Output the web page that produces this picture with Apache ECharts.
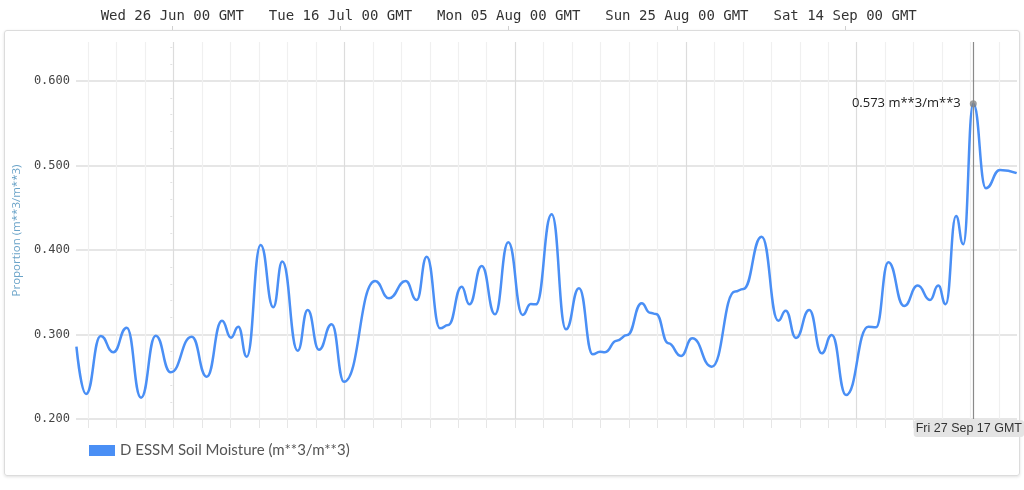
<!DOCTYPE html>
<html>
<head>
<meta charset="utf-8">
<script src="https://cdn.jsdelivr.net/npm/echarts@6/dist/echarts.min.js"></script>
<style>
  html, body { margin: 0; padding: 0; background: #ffffff; }
  #wrap { position: relative; width: 1024px; height: 490px; overflow: hidden; }
  #box { position: absolute; left: 4px; top: 30px; width: 1014px; height: 444px;
         border: 1px solid #dcdcdc; border-radius: 3px; box-shadow: 0 1px 3px rgba(0,0,0,0.12); }
  #chart { position: absolute; left: 0; top: 0; width: 1024px; height: 490px; }
</style>
</head>
<body>
<div id="wrap">
  <div id="box"></div>
  <div id="chart"></div>
</div>
<script>
// ---- data (x = days since Wed 26 Jun 00 GMT) ----
const days = [-11.4, -10.26, -8.51, -7.02, -5.42, -3.72, -1.97, -0.19, 2.31, 4.09,
  5.91, 6.98, 7.85, 8.85, 10.51, 12.01, 13.08, 14.91, 16.10, 17.44,
  18.95, 20.42, 24.11, 25.77, 27.75, 29.06, 30.25, 31.83, 32.82, 34.41,
  35.32, 36.79, 38.37, 39.95, 41.66, 42.62, 43.25, 45.11, 46.81, 48.36,
  49.99, 50.86, 51.45, 52.84, 54.10, 55.81, 56.80, 57.51, 58.98, 60.49,
  61.83, 64.14, 66.91, 67.90, 70.08, 72.06, 72.94, 74.16, 75.74, 77.22,
  78.41, 80.11, 82.76, 83.68, 85.14, 87.01, 88.64, 90.09, 91.08,
  91.96, 93.19, 94.05, 95.24, 96.75, 98.42, 100.40];
const moisture = [0.2856, 0.2296, 0.2982, 0.279, 0.308, 0.2252, 0.2986, 0.2553, 0.2974, 0.250,
  0.3163, 0.2962, 0.3092, 0.2737, 0.4059, 0.3322, 0.3862, 0.2808, 0.329, 0.282,
  0.312, 0.2441, 0.3633, 0.3428, 0.3633, 0.3408, 0.392, 0.3073, 0.3112, 0.3566,
  0.3357, 0.381, 0.324, 0.409, 0.3231, 0.336, 0.3357, 0.4422, 0.3062, 0.3547,
  0.2766, 0.2797, 0.279, 0.2927, 0.2994, 0.3369, 0.3258, 0.3243, 0.2896, 0.2746,
  0.2955, 0.2619, 0.3507, 0.3538, 0.4157, 0.3163, 0.3282, 0.2958, 0.329, 0.2777,
  0.2994, 0.2284, 0.3092, 0.3085, 0.3855, 0.3337, 0.3578, 0.3408, 0.3578,
  0.3357, 0.4402, 0.4067, 0.573, 0.473, 0.4947, 0.4908];

const seriesName = 'D ESSM Soil Moisture (m**3/m**3)';
const yAxisName = 'Proportion (m**3/m**3)';
const unitSuffix = ' m**3/m**3';

const topTickDays = [0, 20, 40, 60, 80];
const topTickLabels = ['Wed 26 Jun 00 GMT', 'Tue 16 Jul 00 GMT', 'Mon 05 Aug 00 GMT', 'Sun 25 Aug 00 GMT', 'Sat 14 Sep 00 GMT'];
const cursorLabel = 'Fri 27 Sep 17 GMT';

const xMin = -11.45, xMax = 100.44;
const yMin = 0.2, yMax = 0.646, yStep = 0.1;

// vertical grid lines of the lower axis
const gridStart = -9.99, gridStep = 3.384, gridCount = 33;
const gridTicks = [];
for (let k = 0; k < gridCount; k++) gridTicks.push(+(gridStart + k * gridStep).toFixed(3));

const peakIdx = moisture.indexOf(Math.max.apply(null, moisture));
const peakDay = days[peakIdx];

const chart = echarts.init(document.getElementById('chart'), null, { renderer: 'canvas' });
chart.setOption({
  animation: false,
  grid: { left: 76, right: 7, top: 42, bottom: 71 },
  legend: {
    left: 84, top: 438, icon: 'rect', itemWidth: 26, itemHeight: 11,
    textStyle: { fontFamily: 'Lato', fontSize: 15, color: '#555' },
    data: [seriesName]
  },
  xAxis: [{
    type: 'value', position: 'bottom', min: xMin, max: xMax,
    axisLine: { show: false },
    axisTick: { show: true, length: 9, customValues: gridTicks, lineStyle: { color: '#e6e6e6' } },
    axisLabel: { show: false, customValues: gridTicks },
    splitLine: { show: true, lineStyle: { color: ['#f0f0f0', '#f0f0f0', '#f0f0f0', '#dcdcdc', '#f0f0f0', '#f0f0f0'], width: 1.2 } },
    axisPointer: {
      show: true, type: 'line', value: peakDay, status: 'show', snap: false, triggerTooltip: false,
      lineStyle: { color: '#8a8a8a', width: 1.2, type: 'solid' },
      label: { show: true, formatter: function () { return cursorLabel; }, backgroundColor: '#e4e4e4',
        color: '#333', fontFamily: 'Liberation Sans', fontSize: 12.5, padding: [2, 2, 2, 2], margin: 1 }
    }
  }, {
    type: 'value', position: 'top', offset: 12, min: xMin, max: xMax,
    axisLine: { show: false },
    axisTick: { show: true, length: 4, customValues: topTickDays, lineStyle: { color: '#d0d0d0' } },
    axisLabel: { show: true, customValues: topTickDays, margin: 7,
      formatter: function (v) { const i = topTickDays.indexOf(Math.round(v)); return i >= 0 ? topTickLabels[i] : ''; },
      fontFamily: 'DejaVu Sans Mono', fontSize: 14, color: '#333' },
    splitLine: { show: false },
    axisPointer: { show: false }
  }],
  yAxis: {
    type: 'value', min: yMin, max: yMax, interval: yStep,
    name: yAxisName, nameLocation: 'middle', nameGap: 52,
    nameTextStyle: { color: '#6aa3c8', fontFamily: 'Open Sans', fontSize: 11.5, padding: [0, 0, 0, 0] },
    axisLine: { show: false },
    axisTick: { show: false },
    minorTick: { show: true, splitNumber: 5, length: 2, lineStyle: { color: '#e2e2e2' } },
    axisLabel: { showMaxLabel: false, margin: 6, fontFamily: 'DejaVu Sans Mono', fontSize: 12, color: '#444',
      formatter: function (v) { return v.toFixed(3); } },
    splitLine: { show: true, showMaxLine: false, lineStyle: { color: '#dedede', width: 1.5 } }
  },
  series: [{
    name: seriesName, type: 'line', color: '#4a8ff5',
    data: days.map(function (d, i) { return [d, moisture[i]]; }),
    smooth: 0.5, smoothMonotone: 'x', showSymbol: false, silent: true,
    lineStyle: { color: '#4a8ff5', width: 2.5 },
    markPoint: {
      symbol: 'circle', symbolSize: 7, silent: true,
      itemStyle: { color: 'rgba(125,125,125,0.75)' },
      label: { show: true, position: 'left', distance: 9, color: '#222', fontFamily: 'Open Sans', fontSize: 13,
        formatter: function (p) { return p.value.toFixed(3) + unitSuffix; } },
      data: [{ type: 'max' }]
    }
  }]
});
</script>
</body>
</html>
